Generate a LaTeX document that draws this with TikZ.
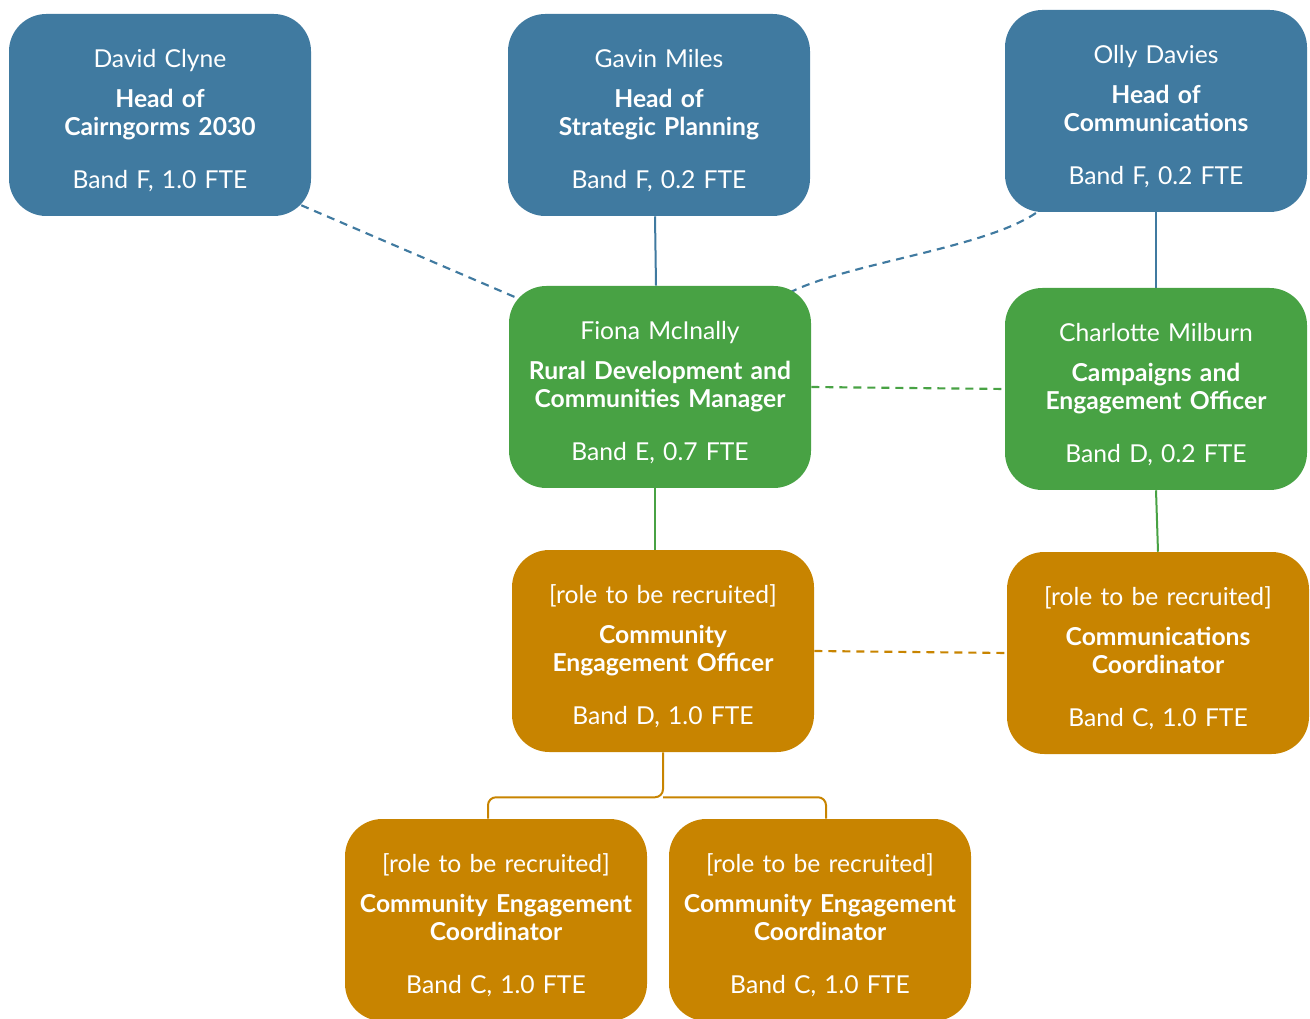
\documentclass[tikz,border=0pt]{standalone}
\usepackage{fontspec}
\setmainfont{Lato}
\usetikzlibrary{calc,backgrounds}
\definecolor{cblue}{RGB}{64,122,160}
\definecolor{cgreen}{RGB}{72,162,68}
\definecolor{corange}{RGB}{200,132,0}
\tikzset{
  card/.style={rounded corners=28pt, minimum width=226.5pt, minimum height=151.5pt,
    text width=220pt, align=center, text=white, inner sep=0pt,
    font=\fontsize{18.5}{21}\selectfont},
  bluecard/.style={card, fill=cblue},
  greencard/.style={card, fill=cgreen},
  orangecard/.style={card, fill=corange},
  link/.style={line width=1.5pt},
  dashlink/.style={line width=1.6pt, dash pattern=on 6pt off 4.5pt},
}
\newcommand\cardtext[3]{\rule{0pt}{22pt}#1\\[9pt]{\bfseries #2}\\[19pt]#3}
\begin{document}
\begin{tikzpicture}[x=0.75pt,y=-0.75pt]
\useasboundingbox (0,0) rectangle (1310,1019);
\node[bluecard] (david) at (160,115) {\cardtext{David Clyne}{Head of\\Cairngorms 2030}{Band F, 1.0 FTE}};
\node[bluecard] (gavin) at (659,115) {\cardtext{Gavin Miles}{Head of\\Strategic Planning}{Band F, 0.2 FTE}};
\node[bluecard] (olly) at (1156,111) {\cardtext{Olly Davies}{Head of\\Communications}{Band F, 0.2 FTE}};
\node[greencard] (fiona) at (660,387) {\cardtext{Fiona McInally}{Rural Development and\\Communities Manager}{Band E, 0.7 FTE}};
\node[greencard] (charlotte) at (1156,389) {\cardtext{Charlotte Milburn}{Campaigns and\\Engagement Officer}{Band D, 0.2 FTE}};
\node[orangecard] (ceo) at (663,651) {\cardtext{[role to be recruited]}{Community\\Engagement Officer}{Band D, 1.0 FTE}};
\node[orangecard] (comms) at (1158,653) {\cardtext{[role to be recruited]}{Communications\\Coordinator}{Band C, 1.0 FTE}};
\node[orangecard] (cec1) at (496,920) {\cardtext{[role to be recruited]}{Community Engagement\\Coordinator}{Band C, 1.0 FTE}};
\node[orangecard] (cec2) at (820,920) {\cardtext{[role to be recruited]}{Community Engagement\\Coordinator}{Band C, 1.0 FTE}};
\begin{scope}[on background layer]
\draw[link, cblue] ([xshift=-3pt]gavin.south) -- ([xshift=-3pt]fiona.north);
\draw[link, cblue] (olly.south) -- (charlotte.north);
\draw[dashlink, cblue] ($(david.south east)+(-10,-11)$) -- ($(fiona.north west)+(17,16)$);
\draw[dashlink, cblue] ($(fiona.north east)+(-22,7)$) .. controls (850,262) and (990,248) .. ($(olly.south west)+(35,-2)$);
\draw[dashlink, cgreen] (fiona.east) -- (charlotte.west);
\draw[link, cgreen] ([xshift=-4pt]fiona.south) -- ([xshift=-4pt]fiona.south |- ceo.north);
\draw[link, cgreen] (charlotte.south) -- (comms.north);
\draw[dashlink, corange] (ceo.east) -- (comms.west);
\draw[link, corange, rounded corners=6pt] (ceo.south) -- ++(0,45) coordinate (j) -| ($(cec1.north)+(-8,0)$);
\draw[link, corange, rounded corners=6pt] (j) -| ($(cec2.north)+(6,0)$);
\end{scope}
\end{tikzpicture}
\end{document}
